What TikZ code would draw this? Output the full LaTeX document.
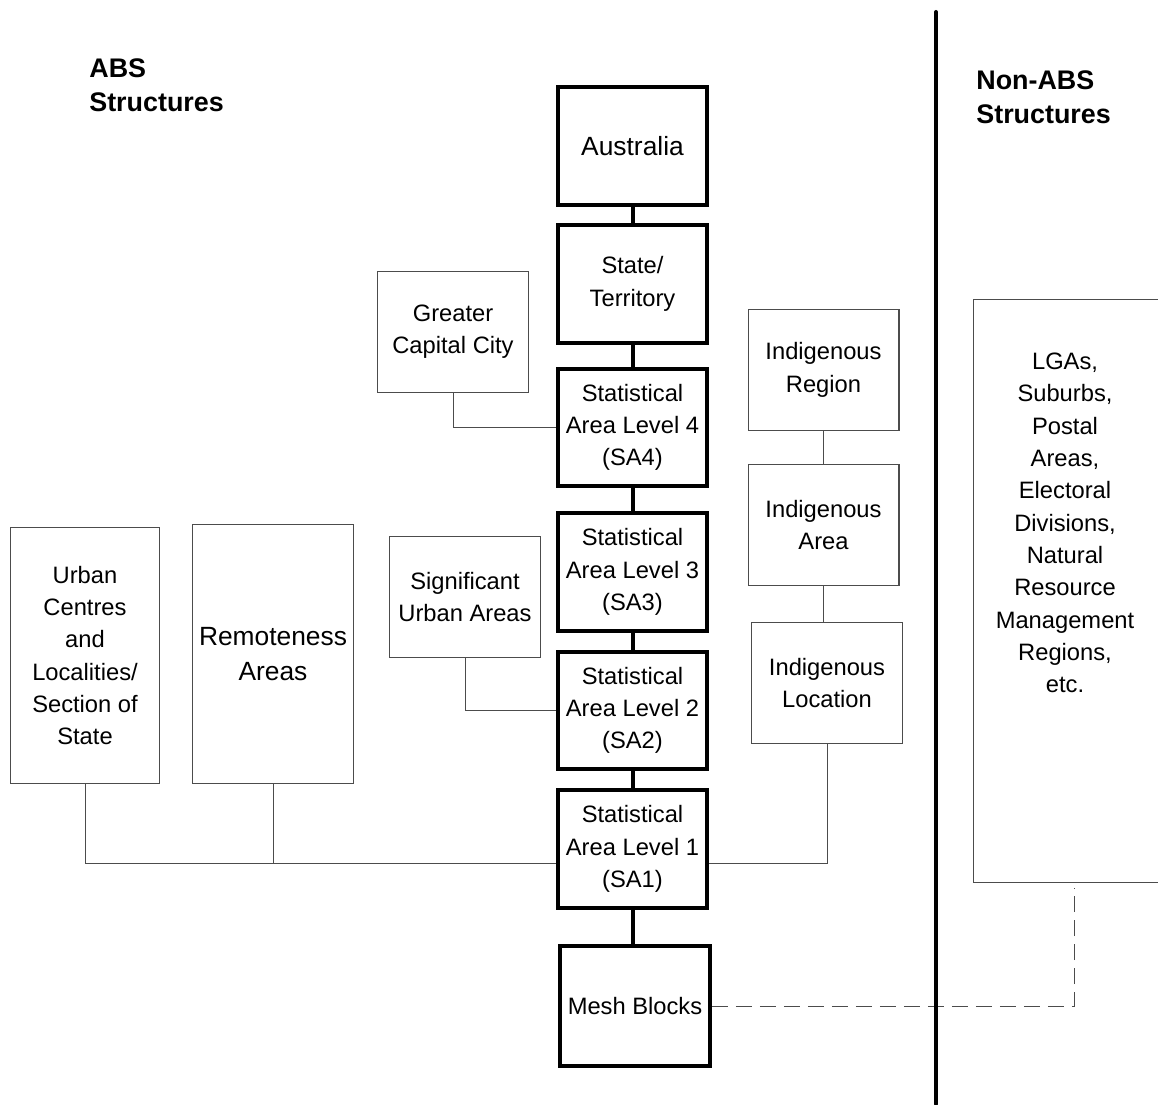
\documentclass[tikz,border=0pt]{standalone}
\usepackage{fontspec}
\setmainfont{Liberation Sans}
\usetikzlibrary{calc}
\definecolor{absgrey}{rgb}{0.3,0.3,0.3}

\begin{document}
\begin{tikzpicture}[x=0.02cm, y=-0.02cm,
	mainbox/.style={draw, line width=0.08cm, minimum width=2.98cm, minimum height=2.36cm},
	sidebox/.style={draw=absgrey, line width=0.6pt, minimum width=3.02cm, minimum height=2.42cm},
	heading/.style={anchor=west, align=left, inner sep=0, font=\bfseries\fontsize{15.3}{19.5}\selectfont},
	link/.style={-, line width=0.08cm},
	thinlink/.style={-, draw=absgrey, line width=0.5pt}]
	\useasboundingbox (0,0) rectangle (1158,1104);
	\clip (0,0) rectangle (1158,1104);
	\begin{scope}[every node/.style={align=center, inner sep=0, font=\fontsize{13.5}{18.4}\selectfont}]
	% main hierarchy
	\node[mainbox, font=\fontsize{15}{19.8}\selectfont] (aus) at (632.5,146) {Australia};
	\node[mainbox] (state) at (632.5,284) {State/\\Territory};
	\node[mainbox] (sa4) at (632.5,427.5) {Statistical\\Area Level 4\\(SA4)};
	\node[mainbox] (sa3) at (632.5,572) {Statistical\\Area Level 3\\(SA3)};
	\node[mainbox] (sa2) at (632.5,710.5) {Statistical\\Area Level 2\\(SA2)};
	\node[mainbox] (sa1) at (632.5,849) {Statistical\\Area Level 1\\(SA1)};
	\node[mainbox, minimum width=3cm, minimum height=2.4cm] (mesh) at (635,1006) {Mesh Blocks};

	% other ABS structures
	\node[sidebox] (gcc) at (453,332) {Greater\\Capital City};
	\node[sidebox] (sua) at (465,597) {Significant\\Urban Areas};
	\node[sidebox, minimum width=2.98cm, minimum height=5.12cm] (urban) at (85,655.5) {Urban\\Centres\\and\\Localities/\\Section of\\State};
	\node[sidebox, minimum width=3.22cm, minimum height=5.18cm, font=\fontsize{15}{19.8}\selectfont] (remote) at (273,654) {Remoteness\\Areas};
	\node[sidebox] (ireg) at (823.5,370) {Indigenous\\Region};
	\node[sidebox] (iarea) at (823.5,525) {Indigenous\\Area};
	\node[sidebox] (iloc) at (827,683) {Indigenous\\Location};

	% non-ABS structures
	\node[sidebox, minimum width=4.02cm, minimum height=11.66cm] (lga) at (1074,591) {};
	\node (lgatext) at (1065,523) {LGAs,\\Suburbs,\\Postal\\Areas,\\Electoral\\Divisions,\\Natural\\Resource\\Management\\Regions,\\etc.};
	\end{scope}

	\node[heading] (abs) at (89,85) {ABS\\Structures};
	\node[heading] (nonabs) at (976,97) {Non-ABS\\Structures};

	\coordinate (sa1left) at ([yshift=-0.28cm]sa1.west);
	\coordinate (sa1right) at ([yshift=-0.28cm]sa1.east);

	\draw[link] (aus) -- (state);
	\draw[link] (state) -- (sa4);
	\draw[link] (sa4) -- (sa3);
	\draw[link] (sa3) -- (sa2);
	\draw[link] (sa2) -- (sa1);
	\draw[link] (sa1.south) -- (sa1.south |- mesh.north);

	\draw[thinlink] (gcc.south) |- (sa4.west);
	\draw[thinlink] (sua.south) |- (sa2.west);
	\draw[thinlink] (urban.south) |- (sa1left);
	\draw[thinlink] (remote.south) -- (remote.south |- sa1left);
	\draw[thinlink] (ireg.south) -- (ireg.south |- iarea.north);
	\draw[thinlink] (iarea.south) -- (iarea.south |- iloc.north);
	\draw[thinlink] (iloc.south) |- (sa1right);
	\draw[thinlink, dash pattern=on 0.32cm off 0.16cm] (mesh.east) -| ([yshift=-0.1cm]lga.south);

	% divider between ABS and non-ABS
	\draw[link, line cap=round] (936,12) -- (936,1104);
\end{tikzpicture}
\end{document}
